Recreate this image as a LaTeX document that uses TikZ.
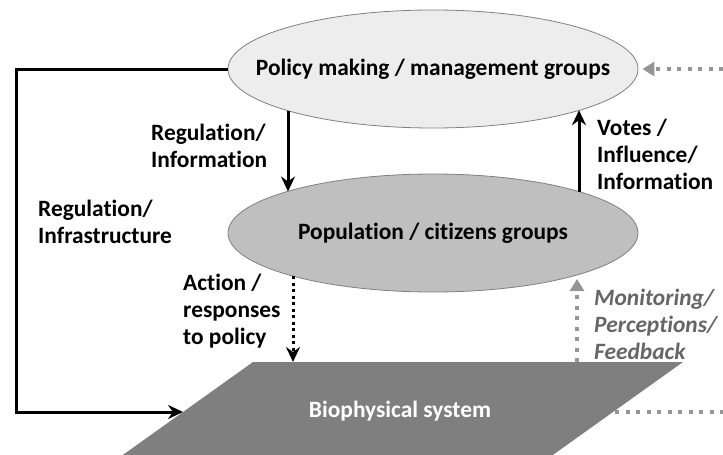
\documentclass[tikz,border=0pt]{standalone}
\usepackage{fontspec}
\setmainfont{Carlito}[Ligatures=NoCommon]
\usetikzlibrary{arrows.meta,calc,shapes.geometric}
\definecolor{lightfill}{HTML}{EDEDED}
\definecolor{midfill}{HTML}{BFBFBF}
\definecolor{darkfill}{HTML}{7F7F7F}
\definecolor{edgegray}{HTML}{808080}
\definecolor{dotgray}{HTML}{959595}
\definecolor{labgray}{HTML}{666666}
\newcommand{\labfont}{\fontsize{23.4}{27}\selectfont\bfseries}
\tikzset{
  blob/.style={ellipse, draw=edgegray, line width=0.8pt, minimum width=410pt, minimum height=118pt, inner sep=0pt, font=\labfont},
  lab/.style={anchor=north west, align=left, inner sep=0pt, font=\labfont},
  blackarrow/.style={line width=3pt, -{Stealth[length=15pt,width=14pt,inset=5pt]}},
  dotarrow/.style={line width=3pt, dash pattern=on 3pt off 3.5pt, -{Stealth[length=15pt,width=14pt,inset=5pt]}},
  grayarrow/.style={dotgray, line width=4.5pt, dash pattern=on 4pt off 6.5pt, -{Triangle[length=12pt,width=14pt]}},
  grayline/.style={dotgray, line width=4.5pt, dash pattern=on 4pt off 6.5pt},
}
\begin{document}
\begin{tikzpicture}[x=1pt,y=-1pt]
\useasboundingbox (0,0) rectangle (723,455);
\begin{scope}
\clip (0,0) rectangle (723,455);
% biophysical parallelogram
\coordinate (p1) at (253,362);
\coordinate (p2) at (683,362);
\coordinate (p3) at (543,462);
\coordinate (p4) at (113,462);
\fill[darkfill] (p1) -- (p2) -- (p3) -- (p4) -- cycle;
\node[font=\labfont, text=white] (bio) at (400,411) {Biophysical system};
\coordinate (bioL) at (183,412);
\coordinate (bioR) at (615,412);
\coordinate (bioT1) at (293,362);
\coordinate (bioT2) at (577,362);

\node[blob, fill=lightfill] (pol) at (433,69) {\makebox[0pt]{Policy making / management groups}};
\node[blob, fill=midfill] (pop) at (433,233) {\makebox[0pt]{Population / citizens groups}};

% connectors
\coordinate (polA) at ($(pol.center)+(-145,41.5)$);
\coordinate (popA) at ($(pop.center)+(-145,-41.5)$);
\coordinate (popB) at ($(pop.center)+(146,-41.2)$);
\coordinate (polB) at ($(pol.center)+(146,41.2)$);
\coordinate (popC) at ($(pop.center)+(-140,43.1)$);
\coordinate (popD) at ($(pop.center)+(144,42)$);
\coordinate (leftc) at (16,69);
\coordinate (rtop) at (723,69);
\coordinate (rbot) at (723,412);

\draw[blackarrow] (polA) -- (popA);
\draw[blackarrow] (popB) -- (polB);
\draw[dotarrow] (popC) -- (bioT1);
\draw[blackarrow] (pol.west) -- (leftc) |- (bioL);
\draw[grayarrow, shorten >=4pt] (bioT2) -- (popD);
\draw[grayarrow, shorten >=4pt] (rtop) -- (pol.east);
\draw[grayline] (bioR) -- (rbot);

% labels
\node[lab] (l1) at (151,124) {Regulation/\\Information};
\node[lab] (l2) at (38,200) {Regulation/\\Infrastructure};
\node[lab] (l3) at (183,274) {Action /\\responses\\to policy};
\node[lab] (l4) at (597,119) {Votes /\\Influence/\\Information};
\node[lab, text=labgray, font=\labfont\itshape] (l5) at (594,289) {Monitoring/\\Perceptions/\\Feedback};
\end{scope}
\end{tikzpicture}
\end{document}
